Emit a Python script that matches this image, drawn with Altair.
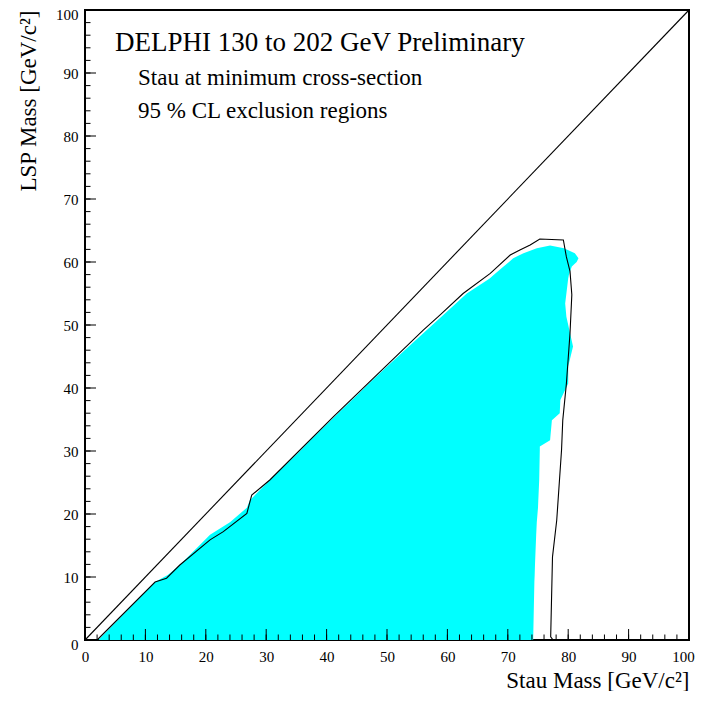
import altair as alt
import pandas as pd

# --- data ---
# cyan excluded region (horizontal band: for each LSP mass, stau mass from left to right edge)
cyan_y = [0, 9.2, 10.3, 11.9, 16.7, 18.7, 21.0, 22.2, 25.4, 30.2, 30.7, 31.7, 34.9, 36.0,
          38.1, 40.7, 43.4, 46.6, 51.3, 53.4, 55.0, 57.4, 57.9, 59.3, 60.0, 60.6, 61.4, 62.2, 62.6]
cyan_left = [2.2, 11.6, 13.7, 15.7, 20.7, 24.0, 26.8, 27.3, 30.6, 35.8, 36.3, 37.3, 40.7, 41.9,
             44.2, 47.0, 50.0, 53.6, 59.0, 61.4, 63.2, 67.0, 67.6, 69.3, 70.2, 70.9, 72.6, 74.8, 77.0]
cyan_right = [74.2, 74.4, 74.45, 74.5, 74.7, 74.8, 75.0, 75.05, 75.2, 75.3, 75.3, 77.0, 77.3, 78.6,
              78.7, 80.0, 80.0, 80.8, 79.7, 79.5, 79.7, 80.0, 80.1, 80.6, 81.4, 81.7, 81.1, 79.3, 77.0]

# black contour (expected limit)
contour_x = [2.0, 11.6, 13.5, 15.7, 20.7, 22.9, 26.8, 27.6, 30.6, 41.1, 56.0, 58.8, 62.6, 67.1,
             70.4, 72.0, 73.7, 75.3, 79.2, 79.7, 80.3, 80.6, 80.3, 79.7, 79.1, 78.9, 78.1, 77.4, 77.1, 77.5]
contour_y = [0, 9.2, 9.8, 11.9, 15.9, 17.2, 20.1, 23.0, 25.4, 35.4, 49.2, 51.6, 55.0, 58.2,
             61.1, 61.9, 62.7, 63.65, 63.5, 60.8, 58.5, 54.8, 48.7, 40.7, 34.9, 30.2, 19.0, 13.2, 0.5, 0]

# kinematic limit (diagonal)
diag_x = [0, 100]
diag_y = [0, 100]

tick_labels = [0, 10, 20, 30, 40, 50, 60, 70, 80, 90, 100]
minor_ticks = [0, 2, 4, 6, 8, 10, 12, 14, 16, 18, 20, 22, 24, 26, 28, 30, 32, 34, 36, 38, 40,
               42, 44, 46, 48, 50, 52, 54, 56, 58, 60, 62, 64, 66, 68, 70, 72, 74, 76, 78, 80,
               82, 84, 86, 88, 90, 92, 94, 96, 98, 100]

title_main = "DELPHI 130 to 202 GeV Preliminary"
title_sub1 = "Stau at minimum cross-section"
title_sub2 = "95 % CL exclusion regions"
x_title = "Stau Mass [GeV/c²]"
y_title = "LSP Mass [GeV/c²]"

FONT = "Liberation Serif"
W, H = 604, 630
MAJ, MIN = 11, 5.5

xs = alt.Scale(domain=[0, 100], nice=False, zero=False)
ys = alt.Scale(domain=[0, 100], nice=False, zero=False)

x_axis = alt.Axis(values=tick_labels, ticks=False, tickSize=0, domain=False, grid=False,
                  labelFlush=False, labelOverlap=False,
                  labelFont=FONT, labelFontSize=15, labelColor="black", labelPadding=9,
                  labelOffset={"condition": {"test": "datum.value == 100", "value": -6},
                               "value": 0},
                  title=x_title, titleFont=FONT, titleFontSize=23, titleFontWeight="normal",
                  titleColor="black", titleX=W, titleY=47, titleAlign="right",
                  titleBaseline="alphabetic")
y_axis = alt.Axis(values=tick_labels, ticks=False, tickSize=0, domain=False, grid=False,
                  labelFlush=False, labelOverlap=False,
                  labelFont=FONT, labelFontSize=15, labelColor="black", labelPadding=7,
                  labelOffset={"condition": {"test": "datum.value == 0 || datum.value == 100",
                                             "value": 4}, "value": 0},
                  title=y_title, titleFont=FONT, titleFontSize=23, titleFontWeight="normal",
                  titleColor="black", titleX=-50, titleY=0, titleAngle=270, titleAlign="right",
                  titleBaseline="alphabetic")


def X(field):
    return alt.X(field, scale=xs, axis=x_axis)


def Y(field):
    return alt.Y(field, scale=ys, axis=y_axis)


cyan_df = pd.DataFrame({"y": cyan_y, "l": cyan_left, "r": cyan_right})
area = alt.Chart(cyan_df).mark_area(orient="horizontal", color="#00ffff", opacity=1).encode(
    y=Y("y:Q"), x=X("l:Q"), x2="r:Q",
)

contour_df = pd.DataFrame({"x": contour_x, "y": contour_y, "i": list(range(len(contour_x)))})
contour = alt.Chart(contour_df).mark_line(color="black", strokeWidth=1.1).encode(
    x=X("x:Q"), y=Y("y:Q"), order="i:Q",
)

diag_df = pd.DataFrame({"x": diag_x, "y": diag_y})
diag = alt.Chart(diag_df).mark_line(color="black", strokeWidth=1.1).encode(
    x=X("x:Q"), y=Y("y:Q"),
)

maj_df = pd.DataFrame({"v": tick_labels})
min_df = pd.DataFrame({"v": minor_ticks})
xmaj = alt.Chart(maj_df).mark_rule(color="black", strokeWidth=1).encode(
    x=X("v:Q"), y=alt.value(H), y2=alt.value(H - MAJ))
xmin = alt.Chart(min_df).mark_rule(color="black", strokeWidth=1).encode(
    x=X("v:Q"), y=alt.value(H), y2=alt.value(H - MIN))
ymaj = alt.Chart(maj_df).mark_rule(color="black", strokeWidth=1).encode(
    y=Y("v:Q"), x=alt.value(0), x2=alt.value(MAJ))
ymin = alt.Chart(min_df).mark_rule(color="black", strokeWidth=1).encode(
    y=Y("v:Q"), x=alt.value(0), x2=alt.value(MIN))

t1 = alt.Chart(pd.DataFrame({"t": [title_main]})).mark_text(
    font=FONT, fontSize=27, align="left", baseline="alphabetic", color="black").encode(
    text="t:N", x=alt.value(30), y=alt.value(41))
t2 = alt.Chart(pd.DataFrame({"t": [title_sub1]})).mark_text(
    font=FONT, fontSize=23, align="left", baseline="alphabetic", color="black").encode(
    text="t:N", x=alt.value(53), y=alt.value(75))
t3 = alt.Chart(pd.DataFrame({"t": [title_sub2]})).mark_text(
    font=FONT, fontSize=23, align="left", baseline="alphabetic", color="black").encode(
    text="t:N", x=alt.value(53), y=alt.value(108))

chart = alt.layer(area, contour, diag, xmin, xmaj, ymin, ymaj, t1, t2, t3).properties(
    width=W, height=H,
    autosize=alt.AutoSizeParams(type="none"),
    padding={"left": 77, "top": 2, "right": 7, "bottom": 51},
    background="white",
).configure_view(stroke="black", strokeWidth=2)

chart.save("out.html", embed_options={"renderer": "svg", "actions": False})
